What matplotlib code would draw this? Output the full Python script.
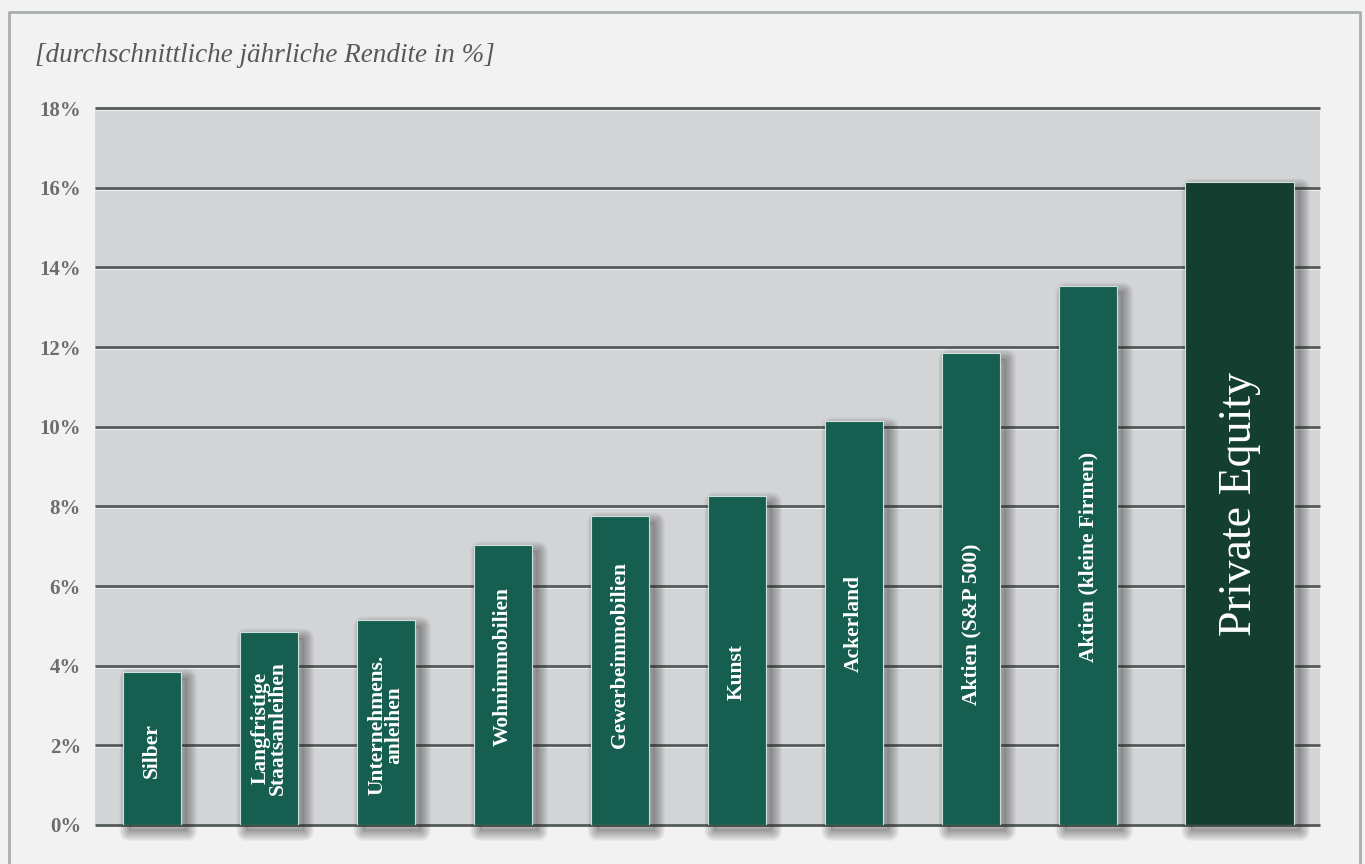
import matplotlib
matplotlib.use("Agg")
import matplotlib.pyplot as plt
import matplotlib.patches as mpatches
import matplotlib.transforms as mtransforms
from matplotlib.lines import Line2D
import numpy as np

# ---- data ----
categories = ["Silber", "Langfristige\nStaatsanleihen", "Unternehmens.\nanleihen",
              "Wohnimmobilien", "Gewerbeimmobilien", "Kunst", "Ackerland",
              "Aktien (S&P 500)", "Aktien (kleine Firmen)", "Private Equity"]
values = [3.84, 4.85, 5.15, 7.03, 7.76, 8.26, 10.14, 11.85, 13.53, 16.14]
yticks = [0, 2, 4, 6, 8, 10, 12, 14, 16, 18]
ytick_labels = ["0%", "2%", "4%", "6%", "8%", "10%", "12%", "14%", "16%", "18%"]
title = "[durchschnittliche jährliche Rendite in %]"

# ---- layout / style (not data) ----
positions = [0, 1, 2, 3, 4, 5, 6, 7, 8, 9.295]
widths = [0.496] * 9 + [0.94]
label_y = [1.88, 2.43, 2.51, 3.99, 4.27, 3.84, 5.07, 5.05, 6.73, 8.07]
colors = ["#165e4f"] * 9 + ["#143e30"]

W, H = 1365, 864
fig = plt.figure(figsize=(W / 100, H / 100), dpi=100)
fig.patch.set_facecolor("#f2f2f2")

ax = fig.add_axes([95 / W, 1 - 825 / H, (1320 - 95) / W, (825 - 108) / H])
ax.set_facecolor("#d3d4d6")
ax.set_xlim(-0.487, 9.983)
ax.set_ylim(0, 18)
for s in ax.spines.values():
    s.set_visible(False)
ax.set_xticks([])
ax.set_yticks(yticks)
ax.set_yticklabels(ytick_labels, fontfamily="Liberation Serif", fontweight="bold",
                   fontsize=15, color="#6d6d6d")
ax.tick_params(axis="y", length=0, pad=10)

# gridlines with light highlight underneath
hl = ax.transData + mtransforms.ScaledTranslation(0, -2 / 100, fig.dpi_scale_trans)
for t in yticks:
    ax.plot([-0.487, 9.983], [t, t], color="#f4f4f4", lw=1.2, transform=hl,
            zorder=1, clip_on=False, solid_capstyle="butt")
    ax.plot([-0.487, 9.983], [t, t], color="#555b5c", lw=2.0, zorder=1.5,
            clip_on=False, solid_capstyle="butt")

# soft shadows (offset down-right, blurred)
off = mtransforms.ScaledTranslation(6 / 100, -6 / 100, fig.dpi_scale_trans)
for x, w, v in zip(positions, widths, values):
    for k in range(1, 19):
        r = mpatches.Rectangle((x - w / 2, 0), w, v, facecolor="none",
                               edgecolor="#2e2e2e", lw=k * 0.8, alpha=0.022,
                               transform=ax.transData + off, zorder=2, clip_on=False,
                               joinstyle="round")
        ax.add_patch(r)
    ax.add_patch(mpatches.Rectangle((x - w / 2, 0), w, v, facecolor="#2e2e2e",
                                    edgecolor="none", alpha=0.12,
                                    transform=ax.transData + off, zorder=2,
                                    clip_on=False))

# bars
bars = ax.bar(positions, values, width=widths, color=colors, edgecolor="#cfe0da",
              linewidth=0.8, zorder=3)

# labels inside bars
for i, (x, lab, ly) in enumerate(zip(positions, categories, label_y)):
    if i == 9:
        ax.text(x, ly, lab, rotation=90, ha="center", va="center", color="white",
                fontfamily="Liberation Serif", fontsize=33, zorder=4,
                rotation_mode="anchor")
    else:
        ax.text(x, ly, lab, rotation=90, ha="center", va="center", color="white",
                fontfamily="Liberation Serif", fontweight="bold", fontsize=15.5,
                linespacing=0.82, zorder=4, multialignment="center",
                rotation_mode="anchor")

# title
fig.text(35 / W, 1 - 55 / H, title, ha="left", va="center", fontfamily="Liberation Serif",
         fontstyle="italic", fontsize=19.5, color="#585858")

# outer frame
fig.add_artist(Line2D([9 / W, 9 / W, 1360 / W, 1360 / W],
                      [0, 1 - 12 / H, 1 - 12 / H, 0], transform=fig.transFigure,
                      color="#a8aeb1", lw=2))

fig.savefig("out.png", dpi=100, facecolor=fig.get_facecolor())
